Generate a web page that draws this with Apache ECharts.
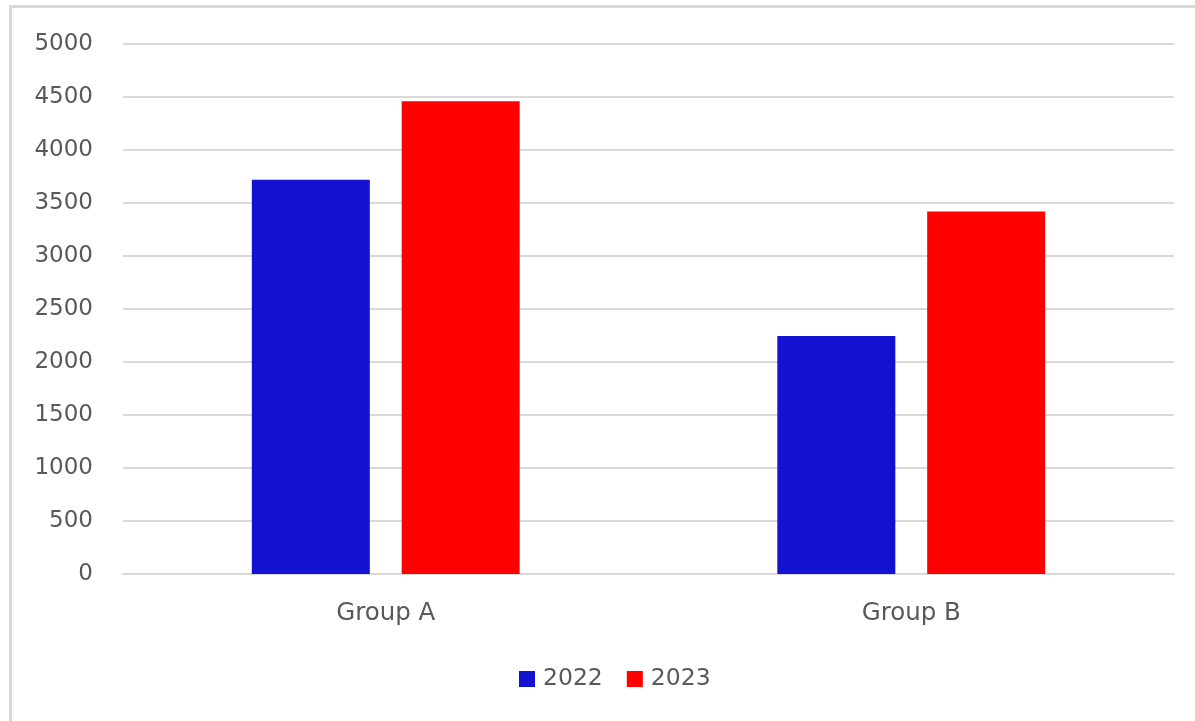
<!DOCTYPE html>
<html>
<head>
<meta charset="utf-8">
<script src="https://cdn.jsdelivr.net/npm/echarts@6/dist/echarts.min.js"></script>
<style>
  html, body { margin: 0; padding: 0; background: #fff; }
  #frame { position: absolute; left: 9px; top: 5px; width: 1200px; height: 730px;
           border-top: 3px solid #d9d9d9; border-left: 3px solid #d9d9d9; box-sizing: border-box; }
  #chart { position: absolute; left: 0; top: 0; width: 1195px; height: 721px; }
</style>
</head>
<body>
<div id="frame"></div>
<div id="chart"></div>
<script>
const categories = ['Group A', 'Group B'];
const seriesNames = ['2022', '2023'];
const values2022 = [3720, 2245];
const values2023 = [4460, 3420];
const yTicks = { min: 0, max: 5000, interval: 500 };

const textColor = '#595959';
const fontFamily = '"DejaVu Sans", sans-serif';
const chart = echarts.init(document.getElementById('chart'), null, { renderer: 'canvas' });
chart.setOption({
  animation: false,
  backgroundColor: 'transparent',
  grid: { left: 123, right: 21, top: 44, bottom: 147, containLabel: false },
  legend: {
    data: seriesNames,
    left: 519,
    top: 667,
    padding: 0,
    itemWidth: 16,
    itemHeight: 16,
    itemGap: 24,
    icon: 'rect',
    textStyle: { color: textColor, fontSize: 23.5, fontFamily: fontFamily, padding: [0, 0, 0, 3] }
  },
  xAxis: {
    type: 'category',
    data: categories,
    axisLine: { show: true, lineStyle: { color: '#d9d9d9', width: 2 } },
    axisTick: { show: false },
    axisLabel: { color: textColor, fontSize: 24.5, fontFamily: fontFamily, margin: 27 }
  },
  yAxis: {
    type: 'value',
    min: yTicks.min, max: yTicks.max, interval: yTicks.interval,
    axisLine: { show: false },
    axisTick: { show: false },
    splitLine: { lineStyle: { color: '#d9d9d9', width: 2 } },
    axisLabel: { color: textColor, fontSize: 23, fontFamily: fontFamily, margin: 30,
                 formatter: function (v) { return String(v); } }
  },
  series: [
    { name: seriesNames[0], type: 'bar', data: values2022, barWidth: 118, barGap: '27%',
      itemStyle: { color: '#1212D0' } },
    { name: seriesNames[1], type: 'bar', data: values2023, barWidth: 118, barGap: '27%',
      itemStyle: { color: '#FF0000' } }
  ]
});
</script>
</body>
</html>
